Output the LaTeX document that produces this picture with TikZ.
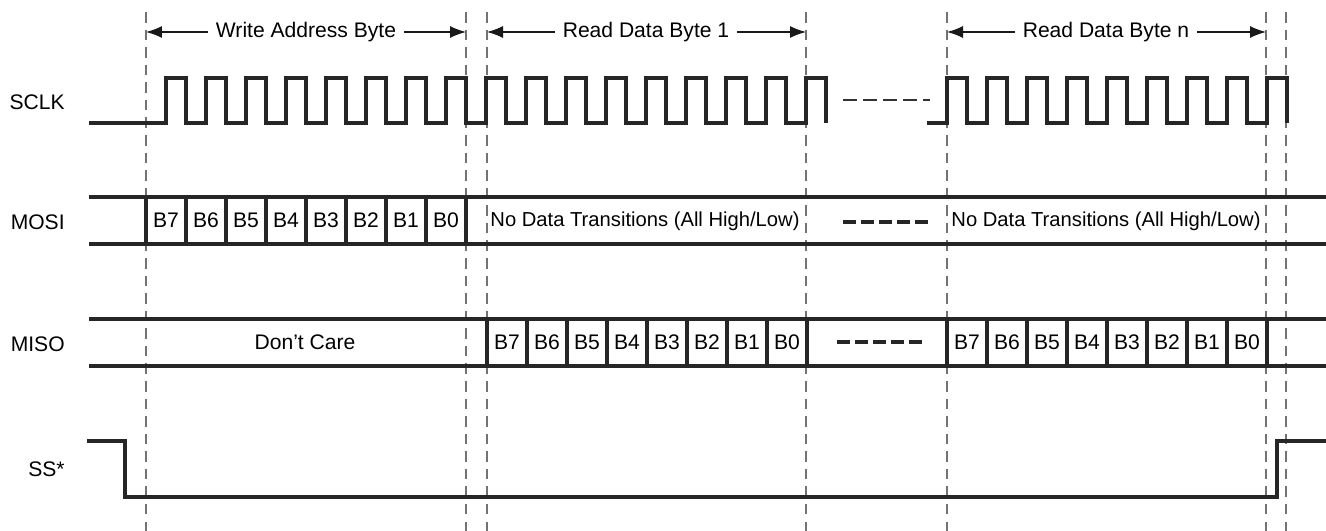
\documentclass[tikz,border=0pt]{standalone}
\usepackage{fontspec}
\setmainfont{Liberation Sans}
\usetikzlibrary{arrows.meta}

\begin{document}
\begin{tikzpicture}[x=0.02cm,y=-0.02cm]
   \tikzset{wave/.style={line width=2.2pt,black!85},
            marker/.style={line width=0.8pt,black!55,dash pattern=on 6pt off 4pt},
            dimline/.style={line width=0.7pt,black!90,-{Latex[length=3.2mm,width=2.4mm]}},
            gap/.style={line width=2.2pt,black!85,dash pattern=on 7.4pt off 2.8pt},
            sig/.style={font=\fontsize{12}{14}\selectfont,anchor=east,inner sep=0pt},
            lbl/.style={font=\fontsize{12}{14}\selectfont,inner sep=4.5pt},
            cell/.style={font=\fontsize{12}{14}\selectfont,inner sep=0pt}}
   \useasboundingbox (0,0) rectangle (1326,531);
   \foreach \n/\x in {1/146,2/466,3/487,4/806,5/947,6/1266,7/1286}{
      \coordinate (t\n) at (\x,12);
      \coordinate (b\n) at (\x,531);
      \draw[marker] (t\n) -- (b\n);
   }
   \node[sig] (sclk) at (65,102) {SCLK};
   \node[sig] (mosi) at (65,222) {MOSI};
   \node[sig] (miso) at (65,344) {MISO};
   \node[sig] (ss) at (65,469) {SS*};
   \node[lbl] (wab) at (306,32) {Write Address Byte};
   \node[lbl] (rd1) at (646,32) {Read Data Byte 1};
   \node[lbl] (rdn) at (1106,32) {Read Data Byte n};
   \draw[dimline] (wab.west) -- (wab.west -| t1);
   \draw[dimline] (wab.east) -- (wab.east -| t2);
   \draw[dimline] (rd1.west) -- (rd1.west -| t3);
   \draw[dimline] (rd1.east) -- (rd1.east -| t4);
   \draw[dimline] (rdn.west) -- (rdn.west -| t5);
   \draw[dimline] (rdn.east) -- (rdn.east -| t6);
   \draw[wave] (89,123) \foreach \k in {0,...,16}{
      -- ({166+40*\k},123) -- ++(0,-45) -- ++(20,0) -- ++(0,45)};
   \draw[wave] (927,123) \foreach \k in {0,...,8}{
      -- ({947+40*\k},123) -- ++(0,-45) -- ++(20,0) -- ++(0,45)};
   \draw[line width=0.8pt,black!80,dash pattern=on 8pt off 3.4pt] (843,100) -- (930,100);
   \draw[wave] (89,197) -- (1326,197) (89,244) -- (1326,244);
   \foreach \k in {0,...,8}
      \draw[wave] ({146+40*\k},197) -- ({146+40*\k},244);
   \foreach \b [count=\i from 0] in {B7,B6,B5,B4,B3,B2,B1,B0}
      \node[cell] (wa\i) at ({166+40*\i},220.5) {\b};
   \node[lbl,font=\fontsize{11.5}{14}\selectfont] (nd1) at (645,221) {No Data Transitions (All High/Low)};
   \node[lbl,font=\fontsize{11.5}{14}\selectfont] (ndn) at (1106,221) {No Data Transitions (All High/Low)};
   \draw[gap] (843,222) -- (928,222);
   \draw[wave] (89,319) -- (1326,319) (89,366) -- (1326,366);
   \foreach \k in {0,...,8}{
      \draw[wave] ({487+40*\k},319) -- ({487+40*\k},366);
      \draw[wave] ({947+40*\k},319) -- ({947+40*\k},366);
   }
   \node[lbl] (dc) at (305,342.5) {Don’t Care};
   \foreach \b [count=\i from 0] in {B7,B6,B5,B4,B3,B2,B1,B0}{
      \node[cell] (ra\i) at ({507+40*\i},342.5) {\b};
      \node[cell] (rn\i) at ({967+40*\i},342.5) {\b};
   }
   \draw[gap] (837,342) -- (923,342);
   \draw[wave] (87,441) -- (125,441) -- (125,497) -- (1277,497) -- (1277,441) -- (1326,441);
\end{tikzpicture}
\end{document}
